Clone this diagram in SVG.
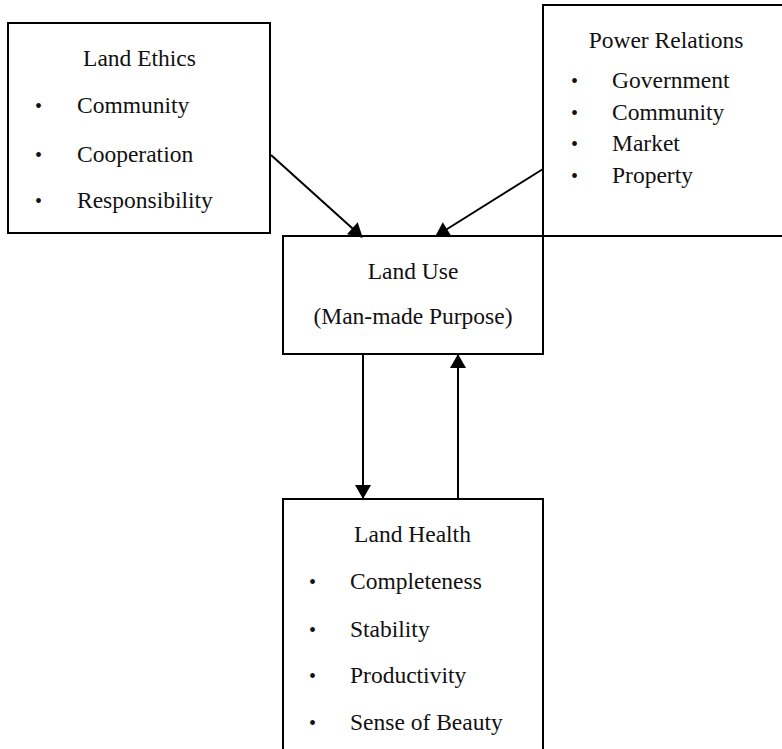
<svg xmlns="http://www.w3.org/2000/svg" width="782" height="749" viewBox="0 0 782 749">
<style>
.box{fill:#fff;stroke:#000;stroke-width:2}
text{font-family:'Liberation Serif','Times New Roman',Tinos,'DejaVu Serif',serif;fill:#111}
.t{font-size:23.5px}
.c{text-anchor:middle}
.b{font-size:20px}
.con{stroke:#000;stroke-width:2;fill:none}
</style>
<defs>
<marker id="ah" markerUnits="userSpaceOnUse" markerWidth="16" markerHeight="16" viewBox="0 0 14 16" refX="13" refY="8" orient="auto">
<path d="M0,0 L14,8 L0,16 Z" fill="#000"/>
</marker>
</defs>
<g id="land-ethics">
<rect class="box" x="8" y="23" width="262" height="210"/>
<text class="t c" x="139.5" y="66">Land Ethics</text>
<text class="b" x="35" y="113">•</text><text class="t" x="77" y="113">Community</text>
<text class="b" x="35" y="162">•</text><text class="t" x="77" y="162">Cooperation</text>
<text class="b" x="35" y="208">•</text><text class="t" x="77" y="208">Responsibility</text>
</g>
<g id="power-relations">
<rect class="box" x="543" y="5" width="250" height="231"/>
<text class="t c" x="666" y="48">Power Relations</text>
<text class="b" x="571" y="88">•</text><text class="t" x="612" y="88">Government</text>
<text class="b" x="571" y="120">•</text><text class="t" x="612" y="120">Community</text>
<text class="b" x="571" y="151">•</text><text class="t" x="612" y="151">Market</text>
<text class="b" x="571" y="183">•</text><text class="t" x="612" y="183">Property</text>
</g>
<g id="land-use">
<rect class="box" x="283" y="236" width="260" height="118"/>
<text class="t c" x="413" y="279">Land Use</text>
<text class="t c" x="413" y="324">(Man-made Purpose)</text>
</g>
<g id="land-health">
<rect class="box" x="283" y="499" width="260" height="260"/>
<text class="t c" x="412.5" y="542">Land Health</text>
<text class="b" x="309" y="589">•</text><text class="t" x="350" y="589">Completeness</text>
<text class="b" x="309" y="637">•</text><text class="t" x="350" y="637">Stability</text>
<text class="b" x="309" y="683">•</text><text class="t" x="350" y="683">Productivity</text>
<text class="b" x="309" y="730">•</text><text class="t" x="350" y="730">Sense of Beauty</text>
</g>
<g id="connectors">
<line class="con" x1="271" y1="155" x2="362" y2="237" marker-end="url(#ah)"/>
<line class="con" x1="543" y1="169" x2="436" y2="236" marker-end="url(#ah)"/>
<line class="con" x1="363" y1="354" x2="363" y2="498" marker-end="url(#ah)"/>
<line class="con" x1="458" y1="499" x2="458" y2="355" marker-end="url(#ah)"/>
</g>
</svg>
